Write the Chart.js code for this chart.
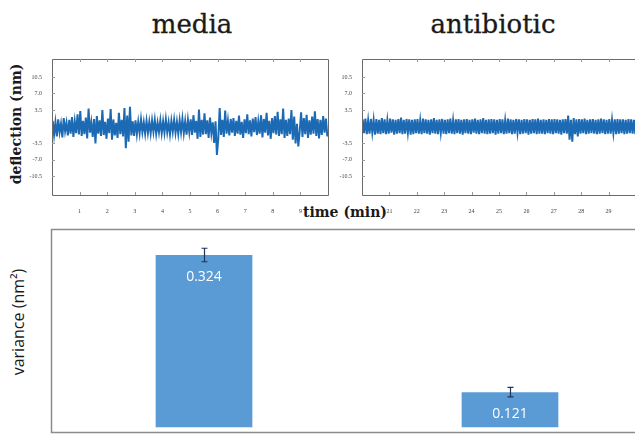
<!DOCTYPE html>
<html><head><meta charset="utf-8">
<script src="https://cdn.jsdelivr.net/npm/chart.js@4.4.1/dist/chart.umd.min.js"></script>
<style>
html,body{margin:0;padding:0;width:635px;height:441px;overflow:hidden;background:#fff;}
canvas{position:absolute;}
.t{position:absolute;white-space:nowrap;color:#1a1a1a;line-height:1;}
</style></head><body>
<div class="t" style="font:26px 'DejaVu Serif';left:192px;top:24px;transform:translate(-50%,-50%);-webkit-text-stroke:0.3px #1a1a1a">media</div>
<div class="t" style="font:26px 'DejaVu Serif';left:493px;top:24px;transform:translate(-50%,-50%);-webkit-text-stroke:0.3px #1a1a1a">antibiotic</div>
<div class="t" style="font:bold 14px 'DejaVu Serif';left:16px;top:124px;transform:translate(-50%,-50%) rotate(-90deg)">deflection (nm)</div>
<div class="t" style="font:bold 14px 'DejaVu Serif';left:345px;top:212px;transform:translate(-50%,-50%)">time (min)</div>
<div class="t" style="font:16px 'Open Sans';left:18px;top:322px;transform:translate(-50%,-50%) rotate(-90deg)">variance (nm²)</div>
<canvas id="cMedia" width="335" height="170" style="left:0;top:50px"></canvas>
<canvas id="cAbx" width="340" height="170" style="left:310px;top:50px"></canvas>
<canvas id="cBar" width="670" height="221" style="left:0;top:220px"></canvas>
<script>
// ---- data ----
const sampleStep = 0.05;            // min between samples
const mediaStart = 0.025;           // min
const abxStart = 20.025;            // min
const mediaDeflection = [
 1.2,-1.8,0.9,-2.1,1.5,-1.2,0.6,-2.3,1.8,-1.0,
 0.8,-1.9,1.4,-1.5,2.0,-2.2,1.1,-1.4,2.6,-1.7,
 3.3,-2.0,1.2,-1.6,1.9,-2.5,3.8,-1.3,0.9,-2.2,
 1.6,-3.6,2.2,-1.5,1.3,-2.0,3.5,-1.8,1.0,-2.6,
 1.7,-1.4,3.7,-2.8,1.5,-1.9,0.8,-2.4,2.9,-1.6,
 1.4,-2.1,3.9,-4.6,2.3,-3.2,4.2,-1.9,1.1,-2.0,
 1.3,-1.6,1.0,-1.4,1.5,-1.2,0.9,-1.5,1.2,-1.3,
 1.0,-1.4,1.3,-1.1,1.4,-1.5,0.8,-1.2,1.3,-1.4,
 1.1,-1.3,1.5,-1.2,0.9,-1.6,1.2,-1.1,1.4,-1.3,
 1.0,-1.5,1.3,-1.2,1.6,-1.4,1.1,-1.7,1.4,-1.2,
 1.5,-1.8,2.4,-1.3,1.2,-2.6,3.6,-2.2,1.4,-1.7,
 2.8,-1.6,1.3,-2.4,1.9,-1.4,0.9,-3.5,1.1,-6.0,
 -2.5,3.9,-1.8,1.4,-2.2,3.4,-1.5,1.2,-1.9,1.6,
 -1.3,1.8,-2.0,1.2,-1.5,2.3,-1.7,1.0,-2.4,1.5,
 -1.4,2.6,-1.6,1.3,-2.1,1.7,-1.2,2.0,-1.8,1.1,
 -1.5,2.4,-2.3,1.6,-1.3,2.9,-1.9,1.2,-2.6,1.8,
 -1.4,2.2,-1.7,3.1,-2.0,1.5,-1.6,3.8,-2.4,1.4,
 -2.0,1.7,-1.6,3.5,-2.8,2.1,-3.6,0.6,-4.2,-1.0,
 3.0,-2.2,1.8,-1.6,2.5,-2.4,1.3,-1.7,2.1,-1.5,
 3.2,-2.0,1.6,-2.5,1.4,-1.8,2.2,-1.3,1.7,-2.1
];
const abxDeflection = [
 1.5,-1.4,1.7,-1.6,1.3,-1.5,1.6,-1.3,1.4,-1.7,
 1.6,-1.5,1.4,-1.6,1.8,-1.4,1.5,-1.6,1.3,-1.5,
 1.7,-1.3,1.5,-1.7,1.4,-1.5,1.6,-1.4,1.9,-1.6,
 1.4,-1.5,1.6,-1.3,1.5,-1.7,1.4,-1.6,1.5,-1.4,
 1.6,-1.5,1.3,-1.6,1.7,-1.4,1.5,-1.5,1.4,-1.7,
 1.5,-1.4,1.8,-1.5,1.4,-1.6,1.5,-1.3,1.6,-1.5,
 1.4,-1.6,1.5,-1.4,1.7,-1.5,1.3,-1.6,1.5,-1.4,
 1.6,-1.5,1.4,-1.7,1.5,-1.4,1.6,-1.5,1.4,-1.6,
 1.5,-1.3,1.7,-1.5,1.4,-1.6,1.5,-1.4,1.8,-1.5,
 1.4,-1.6,1.5,-1.5,1.6,-1.4,1.5,-1.7,1.4,-1.5,
 1.6,-1.4,1.5,-1.6,1.3,-1.5,1.7,-1.4,1.5,-1.6,
 1.4,-1.5,1.6,-1.3,1.5,-1.6,1.4,-1.5,1.6,-1.4,
 1.5,-1.7,1.4,-1.5,1.6,-1.4,1.5,-1.6,1.7,-1.5,
 1.4,-1.5,1.5,-1.6,1.4,-1.4,1.6,-1.5,1.5,-1.6,
 1.6,-1.4,1.5,-1.5,1.4,-1.7,1.5,-1.4,1.6,-1.5,
 2.3,-2.8,1.4,-3.2,1.8,-1.6,1.5,-2.1,1.6,-1.5,
 1.5,-1.4,1.7,-1.6,1.4,-1.5,1.5,-1.4,1.6,-1.5,
 1.4,-1.6,1.5,-1.5,1.7,-1.4,1.5,-1.6,1.4,-1.5,
 1.6,-1.5,1.4,-1.4,1.5,-1.6,1.6,-1.5,1.5,-1.4,
 1.5,-1.6,1.4,-1.5,1.6,-1.4,1.5,-1.5,1.4,-1.6
];
const deflectionTicks = [-10.5, -7.0, -3.5, 3.5, 7.0, 10.5];
const deflectionRange = [-14.5, 14.3];
const mediaTimeTicks = [1,2,3,4,5,6,7,8,9];
const abxTimeTicks = [21,22,23,24,25,26,27,28,29];
const mediaTimeRange = [0, 10];
const abxTimeRange = [20, 30];

const conditions = ['media', 'antibiotic'];
const variance = [0.324, 0.121];
const varianceErr = [0.010, 0.007];
const varianceRange = [0.062, 0.3625];
const varianceBase = 0.0692;

// ---- drawing ----
const boxPlugin = {
  id: 'box',
  afterDraw(chart, args, o) {
    const {ctx, chartArea: a} = chart;
    const L = Math.round(a.left) + 0.5, T = Math.round(a.top) + 0.5;
    const R = Math.round(a.right) + 0.5, B = Math.round(a.bottom) + 0.5;
    ctx.save();
    ctx.strokeStyle = o.color; ctx.lineWidth = o.width;
    ctx.beginPath();
    ctx.moveTo(R, T); ctx.lineTo(L, T); ctx.lineTo(L, B); ctx.lineTo(R, B);
    if (o.rightSide) ctx.lineTo(R, T);
    ctx.stroke();
    if (o.ticks) {
      ctx.strokeStyle = o.tickColor; ctx.lineWidth = 1;
      const xs = chart.scales.x, ys = chart.scales.y;
      ctx.beginPath();
      xs.ticks.forEach(t => {
        const px = Math.round(xs.getPixelForValue(t.value)) + 0.5;
        ctx.moveTo(px, a.top); ctx.lineTo(px, a.top + 3);
        ctx.moveTo(px, a.bottom); ctx.lineTo(px, a.bottom - 3);
      });
      ys.ticks.forEach(t => {
        const py = Math.round(ys.getPixelForValue(t.value)) + 0.5;
        ctx.moveTo(a.left, py); ctx.lineTo(a.left + 3, py);
      });
      ctx.stroke();
    }
    ctx.restore();
  }
};

function traceChart(id, start, values, range, xticks, padRight) {
  const pts = values.map((v, i) => ({x: start + i * sampleStep, y: v}));
  return new Chart(document.getElementById(id), {
    type: 'line',
    data: {datasets: [{data: pts, borderColor: '#1d6ab4', borderWidth: 2,
      pointRadius: 0, tension: 0, fill: false}]},
    options: {
      responsive: false, animation: false, devicePixelRatio: 1,
      layout: {padding: {top: 9, right: padRight, left: 0, bottom: 0}},
      plugins: {legend: {display: false}, tooltip: {enabled: false},
        box: {color: '#6a6a6a', width: 1, ticks: true, tickColor: '#9a9a9a', rightSide: true}},
      scales: {
        x: {type: 'linear', min: range[0], max: range[1],
          afterBuildTicks: s => { s.ticks = xticks.map(v => ({value: v})); },
          afterFit: s => { s.height = 25; },
          grid: {display: false}, border: {display: false},
          ticks: {font: {size: 6, family: 'Liberation Serif'}, color: '#444', padding: 5,
            maxRotation: 0, autoSkip: false, callback: v => String(v)}},
        y: {min: deflectionRange[0], max: deflectionRange[1],
          afterBuildTicks: s => { s.ticks = deflectionTicks.map(v => ({value: v})); },
          afterFit: s => { s.width = 52; },
          grid: {display: false}, border: {display: false},
          ticks: {font: {size: 6, family: 'Liberation Serif'}, color: '#444', padding: 2,
            autoSkip: false, callback: v => Number(v).toFixed(1)}}
      }
    },
    plugins: [boxPlugin]
  });
}
traceChart('cMedia', mediaStart, mediaDeflection, mediaTimeRange, mediaTimeTicks, 7);
traceChart('cAbx', abxStart, abxDeflection, abxTimeRange, abxTimeTicks, 14);

const barDecor = {
  id: 'barDecor',
  afterDatasetsDraw(chart) {
    const {ctx} = chart; const ys = chart.scales.y;
    const meta = chart.getDatasetMeta(0);
    ctx.save();
    meta.data.forEach((el, i) => {
      const v = variance[i], e = varianceErr[i];
      const y1 = ys.getPixelForValue(v + e), y2 = ys.getPixelForValue(v - e);
      const x = Math.round(el.x) + 0.5;
      ctx.strokeStyle = '#1f3558'; ctx.lineWidth = 1.2;
      ctx.beginPath();
      ctx.moveTo(x, y1); ctx.lineTo(x, y2);
      ctx.moveTo(x - 3, y1); ctx.lineTo(x + 3, y1);
      ctx.moveTo(x - 3, y2); ctx.lineTo(x + 3, y2);
      ctx.stroke();
      ctx.fillStyle = '#ffffff';
      ctx.font = '14px "Open Sans"';
      ctx.textAlign = 'center'; ctx.textBaseline = 'middle';
      ctx.fillText(v.toFixed(3), el.x, el.y + 22);
    });
    ctx.restore();
  }
};

new Chart(document.getElementById('cBar'), {
  type: 'bar',
  data: {labels: conditions, datasets: [{data: variance, base: varianceBase,
    backgroundColor: '#5b9bd5', borderWidth: 0,
    categoryPercentage: 1, barPercentage: 0.316}]},
  options: {
    responsive: false, animation: false, devicePixelRatio: 1,
    layout: {padding: {top: 9, right: 7, left: 51, bottom: 9}},
    plugins: {legend: {display: false}, tooltip: {enabled: false},
      box: {color: '#8c8c8c', width: 1.5, ticks: false, rightSide: false}},
    scales: {
      x: {display: false},
      y: {display: false, min: varianceRange[0], max: varianceRange[1]}
    }
  },
  plugins: [barDecor, boxPlugin]
});
</script>
</body></html>
